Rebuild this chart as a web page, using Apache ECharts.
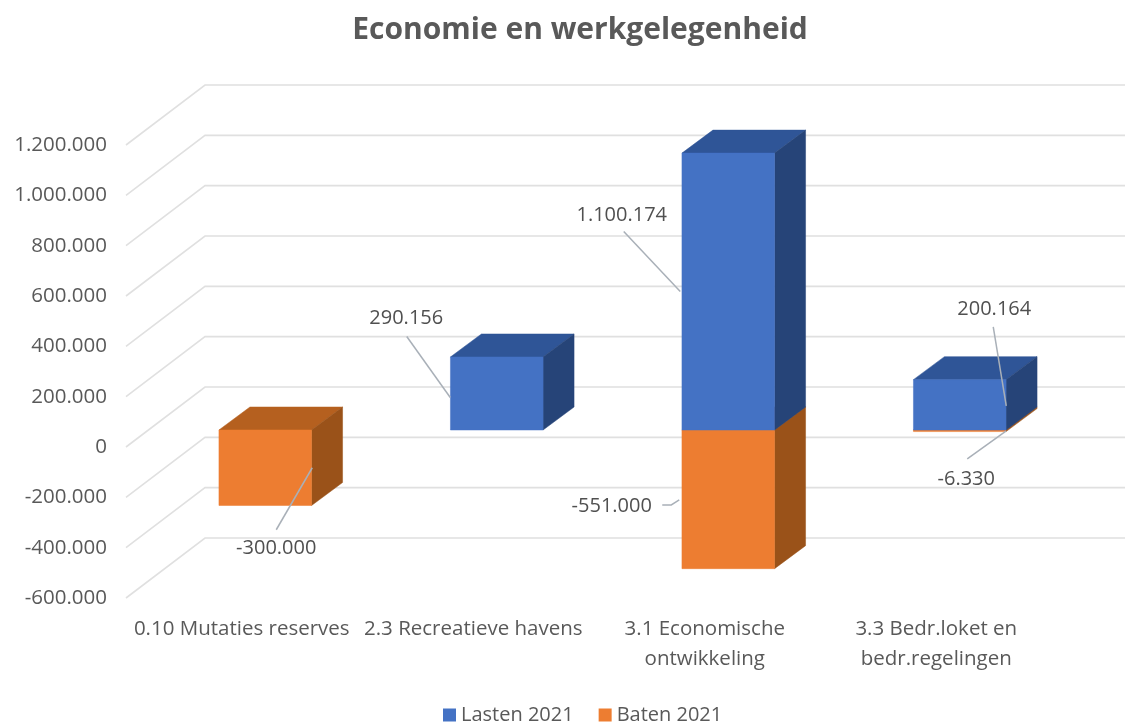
<!DOCTYPE html>
<html><head><meta charset="utf-8">
<style>html,body{margin:0;padding:0;background:#fff}#c{width:1125px;height:722px}</style>
<script src="https://cdn.jsdelivr.net/npm/echarts@6/dist/echarts.min.js"></script>
</head><body><div id="c"></div>
<script>
const categories = ['0.10 Mutaties reserves', '2.3 Recreatieve havens', '3.1 Economische\nontwikkeling', '3.3 Bedr.loket en\nbedr.regelingen'];
const lasten2021 = [null, 290156, 1100174, 200164];
const baten2021 = [-300000, null, -551000, -6330];
const yTicks = [-600000, -400000, -200000, 0, 200000, 400000, 600000, 800000, 1000000, 1200000];

// Presentation only: 3D projection and leader-label placement (pixels, relative to bar face centre)
const WALL = {dx: 79, dy: -60};
const FRONT = {dx: 23.5, dy: -17};
const DEPTH = {dx: 31, dy: -23};
const BAR_RATIO = 0.40;
const lastenLabels = [null,
  {text:[-90.5,-75], line:[[-90,-57],[-46.5,4]]},
  {text:[-106.5,-76.5], line:[[-104.5,-60],[-48,0]]},
  {text:[34.5,-95.5], line:[[33.5,-78],[46.5,1]]}];
const batenLabels = [
  {text:[11,80.5], line:[[11,62],[47,0]]},
  null,
  {text:[-116.5,7], line:[[-66,5.6],[-57,5.6],[-49,0.6]]},
  {text:[6.5,48.5], line:[[7.5,28],[46.5,0]]}];

const fmt = v => String(v).replace(/\B(?=(\d{3})+(?!\d))/g, '.');
const FONT = '"Open Sans", sans-serif';
const TEXT = '#595959';

function gridItem(params, api) {
  const cs = params.coordSys;
  const y = api.coord([0, api.value(1)])[1];
  const x0 = cs.x, bx = cs.x + WALL.dx, rx = cs.x + cs.width + WALL.dx;
  return {type:'polyline', silent:true,
    shape:{points:[[x0,y],[bx,y+WALL.dy],[rx,y+WALL.dy]]},
    style:{stroke:'#E0E0E0', lineWidth:1.6, fill:null}};
}

function barRenderer(colors, placements) {
  return function (params, api) {
    const i = api.value(0), v = api.value(1);
    const c0 = api.coord([i, 0]), c1 = api.coord([i, v]);
    const w = api.size([1, 0])[0] * BAR_RATIO;
    const cx = c0[0] + FRONT.dx;
    const l = cx - w / 2, r = cx + w / 2;
    const y0 = c0[1] + FRONT.dy, y1 = c1[1] + FRONT.dy;
    const t = Math.min(y0, y1), b = Math.max(y0, y1);
    const d = DEPTH;
    const poly = (pts, fill) => ({type:'polygon', shape:{points:pts}, style:{fill, stroke:fill, lineWidth:0.5}});
    const children = [
      poly([[l,t],[l+d.dx,t+d.dy],[r+d.dx,t+d.dy],[r,t]], colors.top),
      poly([[r,t],[r+d.dx,t+d.dy],[r+d.dx,b+d.dy],[r,b]], colors.side),
      poly([[l,t],[r,t],[r,b],[l,b]], colors.front)
    ];
    const p = placements[i];
    if (p) {
      const my = (y0 + y1) / 2;
      children.push({type:'polyline', shape:{points:p.line.map(q => [cx+q[0], my+q[1]])},
        style:{stroke:'#A9B0B8', lineWidth:1.5, fill:null}, z2:10});
      children.push({type:'text', z2:11, style:{x:cx+p.text[0], y:my+p.text[1], text:fmt(v),
        align:'center', verticalAlign:'middle', fill:'#505050', font:'20px '+FONT}});
    }
    return {type:'group', children};
  };
}

const toData = arr => arr.map((v, i) => [i, v]).filter(d => d[1] !== null);

const chart = echarts.init(document.getElementById('c'), null, {renderer:'canvas'});
chart.setOption({
  animation:false,
  backgroundColor:'#fff',
  title:{text:'Economie en werkgelegenheid', left:575, top:10, textAlign:'center',
    textStyle:{fontFamily:FONT, fontSize:30, fontWeight:'bold', color:TEXT}},
  legend:{left:438, top:700, itemWidth:13, itemHeight:13, itemGap:25, icon:'rect',
    data:['Lasten 2021','Baten 2021'],
    textStyle:{fontFamily:FONT, fontSize:20, color:TEXT}},
  grid:{left:126, right:73, top:145, bottom:124, containLabel:false},
  xAxis:{type:'category', data:categories, axisLine:{show:false}, axisTick:{show:false},
    axisLabel:{interval:0, margin:16, fontFamily:FONT, fontSize:20.5, color:TEXT, lineHeight:30, verticalAlign:'top'}},
  yAxis:{type:'value', min:-600000, max:1200000, interval:200000,
    axisLine:{show:false}, axisTick:{show:false}, splitLine:{show:false},
    axisLabel:{margin:19, fontFamily:FONT, fontSize:20.5, color:TEXT, formatter:fmt, padding:[4,0,0,0]}},
  series:[
    {type:'custom', name:'grid', silent:true, data:yTicks.map(t => [0, t]),
      encode:{x:0,y:1}, renderItem:gridItem, z:1},
    {type:'custom', name:'Baten 2021', data:toData(baten2021), encode:{x:0,y:1}, z:3,
      itemStyle:{color:'#ED7D31'},
      renderItem:barRenderer({front:'#ED7D31', top:'#B5601F', side:'#9A5219'}, batenLabels)},
    {type:'custom', name:'Lasten 2021', data:toData(lasten2021), encode:{x:0,y:1}, z:4,
      itemStyle:{color:'#4472C4'},
      renderItem:barRenderer({front:'#4472C4', top:'#2F5597', side:'#264478'}, lastenLabels)}
  ]
});
</script></body></html>
